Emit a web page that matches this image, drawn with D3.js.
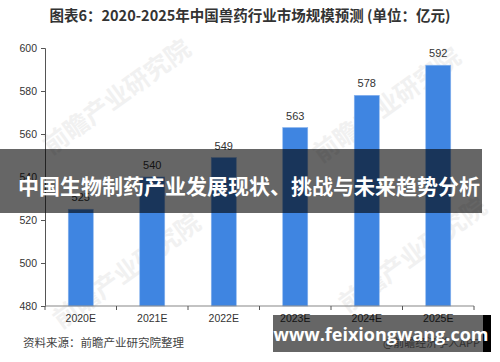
<!DOCTYPE html>
<html>
<head>
<meta charset="utf-8">
<script src="https://cdn.jsdelivr.net/npm/d3@7"></script>
<style>
  body { margin: 0; background: #fff; }
  svg { display: block; font-family: "Liberation Sans", Arial, "Noto Sans CJK SC", sans-serif; }
</style>
</head>
<body>
<div id="chart"></div>
<script>
// chart data
var years = ["2020E", "2021E", "2022E", "2023E", "2024E", "2025E"]
var marketSize = [525, 540, 549, 563, 578, 592]
var yTicks = [480, 500, 520, 540, 560, 580, 600]

var width = 500, height = 362
var margin = { top: 48, left: 45, right: 26, bottom: 56 }

var svg = d3.select("#chart").append("svg")
  .attr("width", width)
  .attr("height", height)

// scales
var x = d3.scaleBand()
  .domain(years)
  .range([margin.left, width - margin.right])
  .paddingInner(0.65)
  .paddingOuter(0.325)

var y = d3.scaleLinear()
  .domain([480, 600])
  .range([height - margin.bottom, margin.top])

// title
svg.append("text")
  .attr("x", 250)
  .attr("y", 21)
  .attr("text-anchor", "middle")
  .attr("font-family", "'Noto Sans CJK SC', sans-serif")
  .attr("font-weight", "bold")
  .attr("font-size", 14.5)
  .attr("fill", "#333")
  .text("图表6：2020-2025年中国兽药行业市场规模预测 (单位：亿元)")

// faint watermarks behind the bars
var marks = [[122, 104], [392, 112], [132, 278], [418, 262]]
svg.selectAll(".wm")
  .data(marks)
  .enter().append("text")
  .attr("class", "wm")
  .attr("transform", function(d) { return "translate(" + d[0] + "," + d[1] + ") rotate(-36)" })
  .attr("text-anchor", "middle")
  .attr("font-family", "'Noto Sans CJK SC', sans-serif")
  .attr("font-weight", "bold")
  .attr("font-size", 25)
  .attr("fill", "#f1f1f1")
  .text("前瞻产业研究院")

// bars
svg.selectAll(".bar")
  .data(marketSize)
  .enter().append("rect")
  .attr("class", "bar")
  .attr("x", function(d, i) { return x(years[i]) })
  .attr("y", function(d) { return y(d) })
  .attr("width", x.bandwidth())
  .attr("height", function(d) { return y(480) - y(d) })
  .attr("fill", "#3f85e1")
  .attr("stroke", "#8ab5ee")
  .attr("stroke-width", 0.6)

// value labels
svg.selectAll(".val")
  .data(marketSize)
  .enter().append("text")
  .attr("class", "val")
  .attr("x", function(d, i) { return x(years[i]) + x.bandwidth() / 2 })
  .attr("y", function(d) { return y(d) - 8 })
  .attr("text-anchor", "middle")
  .attr("font-size", 11)
  .attr("fill", "#333")
  .text(function(d) { return d })

// y axis
var yAxis = svg.append("g")
  .attr("transform", "translate(" + margin.left + ",0)")
  .call(d3.axisLeft(y).tickValues(yTicks).tickSize(4).tickPadding(4))
yAxis.select(".domain").attr("stroke", "#555")
yAxis.selectAll(".tick line").attr("stroke", "#555")
yAxis.selectAll("text").attr("font-size", 10.5).attr("fill", "#333")
  .attr("font-family", "'Liberation Sans', Arial, sans-serif")

// x axis with ticks on band boundaries
var xAxis = svg.append("g")
  .attr("transform", "translate(0," + y(480) + ")")
xAxis.append("line")
  .attr("x1", margin.left)
  .attr("x2", width - margin.right)
  .attr("stroke", "#888")
  .attr("stroke-width", 1.2)
var step = x.step()
var bounds = d3.range(years.length + 1).map(function(i) { return margin.left + i * step })
xAxis.selectAll(".xt")
  .data(bounds)
  .enter().append("line")
  .attr("x1", function(d) { return d })
  .attr("x2", function(d) { return d })
  .attr("y1", 0)
  .attr("y2", 4)
  .attr("stroke", "#555")
xAxis.selectAll(".xl")
  .data(years)
  .enter().append("text")
  .attr("x", function(d) { return x(d) + x.bandwidth() / 2 })
  .attr("y", 16)
  .attr("text-anchor", "middle")
  .attr("font-size", 10.5)
  .attr("fill", "#333")
  .text(function(d) { return d })

// source line
svg.append("text")
  .attr("x", 23)
  .attr("y", 347)
  .attr("font-family", "'Noto Sans CJK SC', sans-serif")
  .attr("font-size", 11.5)
  .attr("fill", "#444")
  .text("资料来源：前瞻产业研究院整理")

// dark banner across the middle
svg.append("rect")
  .attr("x", 0)
  .attr("y", 149)
  .attr("width", 482)
  .attr("height", 64)
  .attr("fill", "#000")
  .attr("fill-opacity", 0.6)

svg.append("text")
  .attr("x", 249)
  .attr("y", 194)
  .attr("text-anchor", "middle")
  .attr("font-family", "'Noto Sans CJK SC', sans-serif")
  .attr("font-weight", "bold")
  .attr("font-size", 21)
  .attr("fill", "#fff")
  .text("中国生物制药产业发展现状、挑战与未来趋势分析")

// bottom right site banner
svg.append("text")
  .attr("x", 480)
  .attr("y", 347)
  .attr("text-anchor", "end")
  .attr("font-family", "'Noto Sans CJK SC', sans-serif")
  .attr("font-size", 11)
  .attr("fill", "#777")
  .text("@前瞻经济学人APP")

svg.append("rect")
  .attr("x", 273)
  .attr("y", 315)
  .attr("width", 210)
  .attr("height", 37)
  .attr("fill", "#000")
  .attr("fill-opacity", 0.6)

svg.append("rect")
  .attr("x", 483)
  .attr("y", 315)
  .attr("width", 8)
  .attr("height", 37)
  .attr("fill", "#000")

svg.append("text")
  .attr("x", 381)
  .attr("y", 341)
  .attr("text-anchor", "middle")
  .attr("font-family", "'Open Sans', 'DejaVu Sans', sans-serif")
  .attr("font-weight", "bold")
  .attr("font-size", 18)
  .attr("fill", "#fff")
  .text("www.feixiongwang.com")
</script>
</body>
</html>
